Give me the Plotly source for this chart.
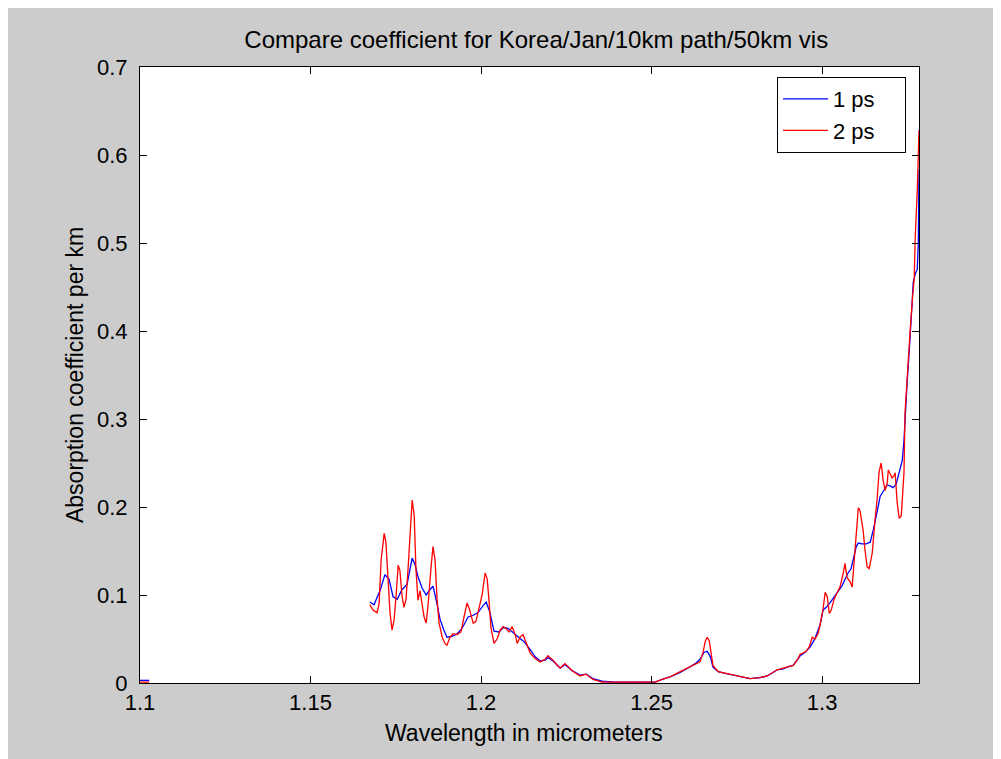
import plotly.graph_objects as go

# ---------------- data ----------------
wl_1ps = [1.1000, 1.1027, None,
          1.1674, 1.1686, 1.1704, 1.1718, 1.1730, 1.1742, 1.1754, 1.1768, 1.1783, 1.1798,
          1.1806, 1.1815, 1.1827, 1.1839, 1.1850, 1.1859, 1.1868, 1.1880, 1.1891, 1.1900,
          1.1915, 1.1930, 1.1944, 1.1962, 1.1977, 1.1991, 1.2006, 1.2015, 1.2026, 1.2038,
          1.2053, 1.2065, 1.2079, 1.2094, 1.2109, 1.2126, 1.2144, 1.2158, 1.2173, 1.2188,
          1.2196, 1.2211, 1.2232, 1.2246, 1.2267, 1.2290, 1.2308, 1.2328, 1.2355, 1.2393,
          1.2437, 1.2481, 1.2510, 1.2531, 1.2554, 1.2584, 1.2604, 1.2628, 1.2642, 1.2654,
          1.2663, 1.2672, 1.2680, 1.2695, 1.2716, 1.2739, 1.2765, 1.2789, 1.2818, 1.2839,
          1.2856, 1.2868, 1.2886, 1.2897, 1.2915, 1.2927, 1.2936, 1.2950, 1.2965, 1.2977,
          1.2985, 1.2994, 1.3003, 1.3012, 1.3023, 1.3035, 1.3044, 1.3053, 1.3059, 1.3067,
          1.3076, 1.3085, 1.3091, 1.3100, 1.3106, 1.3117, 1.3129, 1.3141, 1.3150, 1.3155,
          1.3164, 1.3170, 1.3182, 1.3191, 1.3199, 1.3208, 1.3217, 1.3223, 1.3229, 1.3235,
          1.3240, 1.3243, 1.3249, 1.3255, 1.3258, 1.3264, 1.3267, 1.3273, 1.3279, 1.3282,
          1.3284]
coef_1ps = [0.003, 0.003, None,
            0.092, 0.089, 0.105, 0.123, 0.118, 0.098, 0.095, 0.106, 0.112, 0.142,
            0.135, 0.121, 0.108, 0.100, 0.106, 0.110, 0.095, 0.072, 0.060, 0.052,
            0.053, 0.056, 0.062, 0.075, 0.077, 0.080, 0.088, 0.092, 0.080, 0.059,
            0.058, 0.063, 0.062, 0.057, 0.052, 0.047, 0.038, 0.030, 0.025, 0.026,
            0.029, 0.025, 0.017, 0.021, 0.014, 0.009, 0.010, 0.005, 0.002, 0.001,
            0.001, 0.001, 0.001, 0.004, 0.007, 0.012, 0.017, 0.022, 0.027, 0.035,
            0.036, 0.030, 0.018, 0.013, 0.011, 0.009, 0.007, 0.005, 0.006, 0.008,
            0.012, 0.015, 0.016, 0.018, 0.020, 0.026, 0.031, 0.035, 0.041, 0.049,
            0.057, 0.066, 0.083, 0.086, 0.091, 0.098, 0.103, 0.107, 0.111, 0.118,
            0.125, 0.130, 0.140, 0.155, 0.159, 0.158, 0.158, 0.160, 0.174, 0.185,
            0.200, 0.212, 0.220, 0.225, 0.224, 0.222, 0.226, 0.236, 0.245, 0.253,
            0.276, 0.300, 0.340, 0.375, 0.400, 0.433, 0.455, 0.465, 0.470, 0.500,
            0.583]

wl_2ps = [1.1000, 1.1027, None,
          1.1674, 1.1683, 1.1695, 1.1701, 1.1707, 1.1716, 1.1721, 1.1727, 1.1733, 1.1739,
          1.1745, 1.1751, 1.1757, 1.1762, 1.1768, 1.1774, 1.1780, 1.1786, 1.1792, 1.1798,
          1.1804, 1.1809, 1.1815, 1.1821, 1.1827, 1.1833, 1.1839, 1.1845, 1.1853, 1.1859,
          1.1865, 1.1871, 1.1877, 1.1886, 1.1894, 1.1900, 1.1909, 1.1918, 1.1930, 1.1941,
          1.1950, 1.1959, 1.1965, 1.1971, 1.1977, 1.1985, 1.1994, 1.2003, 1.2012, 1.2018,
          1.2023, 1.2029, 1.2038, 1.2047, 1.2056, 1.2065, 1.2073, 1.2082, 1.2091, 1.2100,
          1.2106, 1.2114, 1.2123, 1.2132, 1.2144, 1.2158, 1.2173, 1.2188, 1.2196, 1.2211,
          1.2223, 1.2232, 1.2246, 1.2267, 1.2290, 1.2308, 1.2328, 1.2355, 1.2393, 1.2437,
          1.2481, 1.2510, 1.2531, 1.2554, 1.2584, 1.2604, 1.2628, 1.2642, 1.2651, 1.2657,
          1.2663, 1.2669, 1.2674, 1.2680, 1.2695, 1.2716, 1.2739, 1.2765, 1.2789, 1.2818,
          1.2839, 1.2856, 1.2868, 1.2886, 1.2897, 1.2915, 1.2927, 1.2936, 1.2944, 1.2953,
          1.2962, 1.2971, 1.2979, 1.2988, 1.2994, 1.3003, 1.3009, 1.3015, 1.3021, 1.3026,
          1.3035, 1.3044, 1.3053, 1.3062, 1.3067, 1.3073, 1.3082, 1.3088, 1.3094, 1.3100,
          1.3106, 1.3111, 1.3120, 1.3126, 1.3132, 1.3138, 1.3147, 1.3155, 1.3161, 1.3167,
          1.3173, 1.3179, 1.3185, 1.3191, 1.3194, 1.3199, 1.3205, 1.3211, 1.3214, 1.3220,
          1.3226, 1.3232, 1.3235, 1.3240, 1.3243, 1.3249, 1.3258, 1.3264, 1.3270, 1.3273,
          1.3279, 1.3284]
coef_2ps = [0.001, 0.001, None,
            0.089, 0.083, 0.080, 0.090, 0.140, 0.170, 0.160, 0.120, 0.080, 0.060,
            0.072, 0.100, 0.134, 0.128, 0.100, 0.086, 0.095, 0.130, 0.175, 0.208,
            0.190, 0.130, 0.094, 0.105, 0.090, 0.075, 0.068, 0.090, 0.130, 0.155,
            0.140, 0.095, 0.068, 0.052, 0.045, 0.043, 0.052, 0.056, 0.055, 0.058,
            0.075, 0.091, 0.085, 0.075, 0.068, 0.070, 0.085, 0.100, 0.125, 0.118,
            0.095, 0.063, 0.045, 0.050, 0.060, 0.064, 0.062, 0.058, 0.064, 0.055,
            0.045, 0.052, 0.055, 0.045, 0.034, 0.028, 0.024, 0.027, 0.031, 0.026,
            0.020, 0.017, 0.022, 0.014, 0.008, 0.010, 0.004, 0.001, 0.001, 0.001,
            0.001, 0.001, 0.004, 0.007, 0.013, 0.017, 0.022, 0.024, 0.035, 0.047,
            0.052, 0.048, 0.035, 0.020, 0.013, 0.011, 0.009, 0.007, 0.005, 0.006,
            0.008, 0.012, 0.015, 0.017, 0.018, 0.020, 0.026, 0.033, 0.034, 0.036,
            0.041, 0.052, 0.050, 0.056, 0.066, 0.085, 0.103, 0.098, 0.079, 0.082,
            0.095, 0.103, 0.110, 0.125, 0.136, 0.120, 0.115, 0.109, 0.140, 0.170,
            0.199, 0.196, 0.174, 0.150, 0.132, 0.130, 0.148, 0.185, 0.208, 0.240,
            0.250, 0.230, 0.219, 0.228, 0.242, 0.238, 0.233, 0.236, 0.239, 0.205,
            0.187, 0.190, 0.205, 0.239, 0.307, 0.350, 0.400, 0.433, 0.460, 0.507,
            0.560, 0.628]

x_ticks = [1.1, 1.15, 1.2, 1.25, 1.3]
x_tick_labels = ["1.1", "1.15", "1.2", "1.25", "1.3"]
y_ticks = [0, 0.1, 0.2, 0.3, 0.4, 0.5, 0.6, 0.7]
y_tick_labels = ["0", "0.1", "0.2", "0.3", "0.4", "0.5", "0.6", "0.7"]

series_names = ["1 ps", "2 ps"]
title_text = "Compare coefficient for Korea/Jan/10km path/50km vis"
x_title = "Wavelength in micrometers"
y_title = "Absorption coefficient per km"

FONT = "Liberation Sans, Arial, sans-serif"
FS_TICK = 22
FS_AXT = 23
FS_TITLE = 24
PAD = "\u00a0\u00a0\u00a0\u00a0"

fig = go.Figure()
fig.add_trace(go.Scatter(x=wl_1ps, y=coef_1ps, mode="lines", name=series_names[0] + PAD,
                         line=dict(color="#0000ff", width=1.3), connectgaps=False))
fig.add_trace(go.Scatter(x=wl_2ps, y=coef_2ps, mode="lines", name=series_names[1] + PAD,
                         line=dict(color="#ff0000", width=1.3), connectgaps=False))

axis_common = dict(showgrid=False, zeroline=False, showline=True, linecolor="black",
                   linewidth=1, mirror="ticks", ticks="inside", ticklen=7,
                   tickcolor="black", tickwidth=1,
                   tickfont=dict(family=FONT, size=FS_TICK, color="black"))

fig.update_xaxes(range=[1.1, 1.3284], tickvals=x_ticks, ticktext=x_tick_labels,
                 **axis_common)
fig.update_yaxes(range=[0, 0.7], tickvals=y_ticks, ticktext=y_tick_labels,
                 ticklabelstandoff=7, **axis_common)

fig.update_layout(
    width=993, height=751, autosize=False,
    margin=dict(l=132, r=82, t=59, b=76, pad=0),
    paper_bgcolor="#cccccc", plot_bgcolor="white",
    font=dict(family=FONT, size=FS_TICK, color="black"),
    title=dict(text=title_text, x=0.532, xanchor="center", y=1 - 32 / 751,
               yanchor="middle", font=dict(family=FONT, size=FS_TITLE, color="black")),
    showlegend=True,
    legend=dict(x=0.8177, y=0.9838, xanchor="left", yanchor="top",
                bgcolor="white", bordercolor="black", borderwidth=1,
                font=dict(family=FONT, size=FS_TICK, color="black"),
                itemwidth=45, tracegroupgap=0),
    annotations=[
        dict(text=x_title, xref="paper", yref="paper", x=0.493, y=-0.0812,
             xanchor="center", yanchor="middle", showarrow=False,
             font=dict(family=FONT, size=FS_AXT, color="black")),
        dict(text=y_title, xref="paper", yref="paper", x=-0.0834, y=0.5,
             xanchor="center", yanchor="middle", showarrow=False, textangle=-90,
             font=dict(family=FONT, size=FS_AXT, color="black")),
    ],
)

fig.write_html("out.html")
